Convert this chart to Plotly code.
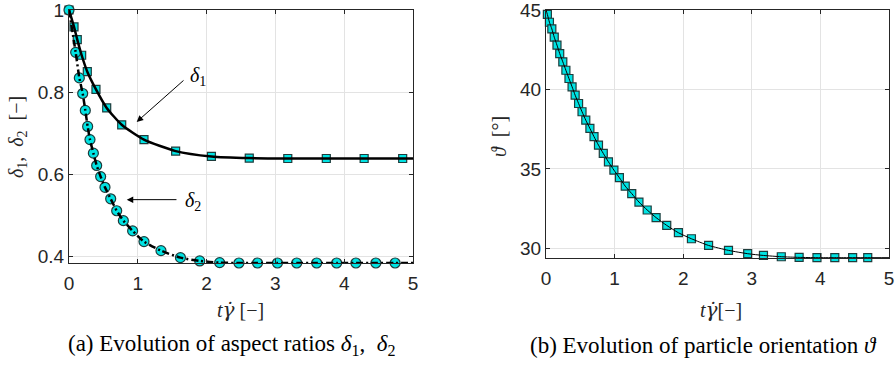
import plotly.graph_objects as go

# ---------------- data ----------------
d1_t = [0, 0.073, 0.12, 0.184, 0.266, 0.392, 0.548, 0.766, 1.09, 1.55, 2.07, 2.62, 3.18, 3.74, 4.29, 4.85]
d1_v = [1.0, 0.959, 0.928, 0.890, 0.850, 0.807, 0.762, 0.721, 0.685, 0.657, 0.644, 0.640, 0.639, 0.639, 0.639, 0.639]

d2_t = [0, 0.097, 0.15, 0.199, 0.237, 0.271, 0.305, 0.354, 0.402, 0.46, 0.523, 0.606, 0.693, 0.79,
        0.925, 1.09, 1.337, 1.62, 1.90, 2.19, 2.47, 2.74, 3.03, 3.31, 3.60, 3.89, 4.17, 4.46, 4.74]
d2_v = [1.0, 0.897, 0.835, 0.797, 0.756, 0.717, 0.685, 0.652, 0.622, 0.595, 0.569, 0.541, 0.512, 0.488,
        0.463, 0.437, 0.415, 0.398, 0.390, 0.386, 0.385, 0.385, 0.385, 0.385, 0.385, 0.385, 0.385, 0.385, 0.385]

th_t = [0.02, 0.05, 0.085, 0.12, 0.16, 0.2, 0.245, 0.29, 0.335, 0.38, 0.425, 0.475, 0.525, 0.58, 0.64,
        0.70, 0.765, 0.835, 0.91, 0.99, 1.07, 1.155, 1.25, 1.355, 1.475, 1.605, 1.76, 1.93, 2.12, 2.37,
        2.66, 2.94, 3.17, 3.43, 3.69, 3.95, 4.21, 4.47, 4.69]
th_v = [44.72, 44.23, 43.81, 43.29, 42.79, 42.26, 41.74, 41.21, 40.69, 40.17, 39.64, 39.12, 38.6, 38.07,
        37.55, 37.03, 36.50, 35.98, 35.45, 34.93, 34.45, 33.92, 33.45, 32.92, 32.42, 31.94, 31.45, 30.99,
        30.61, 30.19, 29.88, 29.67, 29.56, 29.48, 29.44, 29.42, 29.42, 29.42, 29.42]

t_end = 5.0
x_ticks = [0, 1, 2, 3, 4, 5]
x_ticktext = ["0", "1", "2", "3", "4", "5"]
yl_ticks = [0.4, 0.6, 0.8, 1.0]
yl_ticktext = ["0.4", "0.6", "0.8", "1"]
yr_ticks = [30, 35, 40, 45]
yr_ticktext = ["30", "35", "40", "45"]

W, H = 896, 365
CYAN = "#00E3E3"
EDGE = "#1E3C3C"
TICKFONT = dict(family="Liberation Sans, Arial, sans-serif", size=19, color="#262626")
SERIF = "Liberation Serif, Times New Roman, DejaVu Serif, serif"
GDOT = '<span style="font-family:DejaVu Serif">γ̇</span>'

fig = go.Figure()

# left panel: markers first, lines on top
fig.add_trace(go.Scatter(x=d1_t, y=d1_v, mode="markers", xaxis="x", yaxis="y", cliponaxis=False,
                         marker=dict(symbol="square", size=8, color=CYAN, line=dict(color=EDGE, width=1.2))))
fig.add_trace(go.Scatter(x=d2_t, y=d2_v, mode="markers", xaxis="x", yaxis="y", cliponaxis=False,
                         marker=dict(symbol="circle", size=10, color=CYAN, line=dict(color=EDGE, width=1.2))))
fig.add_trace(go.Scatter(x=d1_t + [t_end], y=d1_v + [d1_v[-1]], mode="lines", xaxis="x", yaxis="y",
                         line=dict(color="black", width=2.5, shape="spline", smoothing=0.6)))
fig.add_trace(go.Scatter(x=d2_t + [t_end], y=d2_v + [d2_v[-1]], mode="lines", xaxis="x", yaxis="y",
                         line=dict(color="black", width=2.5, dash="7px,3px,2px,3px", shape="spline", smoothing=0.6)))

# right panel
fig.add_trace(go.Scatter(x=th_t, y=th_v, mode="markers", xaxis="x2", yaxis="y2", cliponaxis=False,
                         marker=dict(symbol="square", size=8, color=CYAN, line=dict(color=EDGE, width=1.2))))
fig.add_trace(go.Scatter(x=[0] + th_t + [t_end], y=[45.0] + th_v + [th_v[-1]], mode="lines", xaxis="x2", yaxis="y2",
                         line=dict(color="black", width=1, shape="spline", smoothing=0.6)))

def px_x(p):
    return p / W

def px_y(p):
    return 1 - p / H

axis_common = dict(showline=True, linecolor="#262626", linewidth=1, mirror="allticks", ticks="inside",
                   ticklen=4, tickcolor="#262626", showgrid=True, gridcolor="#E3E3E3", gridwidth=1,
                   zeroline=False, tickfont=TICKFONT, automargin=False, ticklabeloverflow="allow")

fig.update_layout(
    width=W, height=H, margin=dict(l=0, r=0, t=0, b=0, autoexpand=False),
    paper_bgcolor="white", plot_bgcolor="white", showlegend=False,
    xaxis=dict(domain=[px_x(69), px_x(413)], range=[0, 5], tickvals=x_ticks, ticktext=x_ticktext,
               anchor="y", ticklabelstandoff=3, **axis_common),
    yaxis=dict(domain=[px_y(263), px_y(10)], range=[0.385, 1.0], tickvals=yl_ticks, ticktext=yl_ticktext,
               anchor="x", **axis_common),
    xaxis2=dict(domain=[px_x(546), px_x(889)], range=[0, 5], tickvals=x_ticks, ticktext=x_ticktext,
                anchor="y2", ticklabelstandoff=3, **axis_common),
    yaxis2=dict(domain=[px_y(258), px_y(10)], range=[29.4, 45], tickvals=yr_ticks, ticktext=yr_ticktext,
                anchor="x2", **axis_common),
)

def paper_text(xp, yp, text, size, angle=0, color="#262626"):
    return dict(x=px_x(xp), y=px_y(yp), xref="paper", yref="paper", showarrow=False,
                xanchor="center", yanchor="middle", textangle=angle, text=text,
                font=dict(family=SERIF, size=size, color=color))

ann = []
# axis titles
ann.append(paper_text(240, 310, "<i>t" + GDOT + "</i> [−]", 20))
ann.append(paper_text(721, 310, "<i>t" + GDOT + "</i>[−]", 20))
ann.append(paper_text(17, 137, "<i>δ</i><sub>1</sub>,  <i>δ</i><sub>2</sub>  [−]", 20, angle=-90))
ann.append(paper_text(499, 137, "<i>ϑ</i>  [°]", 20, angle=-90))
# captions
ann.append(paper_text(231, 345, "(a) Evolution of aspect ratios <i>δ</i><sub>1</sub>,  <i>δ</i><sub>2</sub>", 23, color="black"))
ann.append(paper_text(703, 345, "(b) Evolution of particle orientation <i>ϑ</i>", 23, color="black"))
# arrows
ann.append(dict(x=0.984, y=0.728, ax=1.686, ay=0.832, xref="x", yref="y", axref="x", ayref="y",
                showarrow=True, arrowhead=2, arrowsize=1.3, arrowwidth=1, arrowcolor="black", text=""))
ann.append(dict(x=0.839, y=0.539, ax=1.584, ay=0.539, xref="x", yref="y", axref="x", ayref="y",
                showarrow=True, arrowhead=2, arrowsize=1.3, arrowwidth=1, arrowcolor="black", text=""))
ann.append(dict(x=1.87, y=0.838, xref="x", yref="y", showarrow=False, xanchor="center", yanchor="middle",
                text="<i>δ</i><sub>1</sub>", font=dict(family=SERIF, size=20, color="black")))
ann.append(dict(x=1.80, y=0.535, xref="x", yref="y", showarrow=False, xanchor="center", yanchor="middle",
                text="<i>δ</i><sub>2</sub>", font=dict(family=SERIF, size=20, color="black")))
fig.update_layout(annotations=ann)

fig.write_html("out.html")
